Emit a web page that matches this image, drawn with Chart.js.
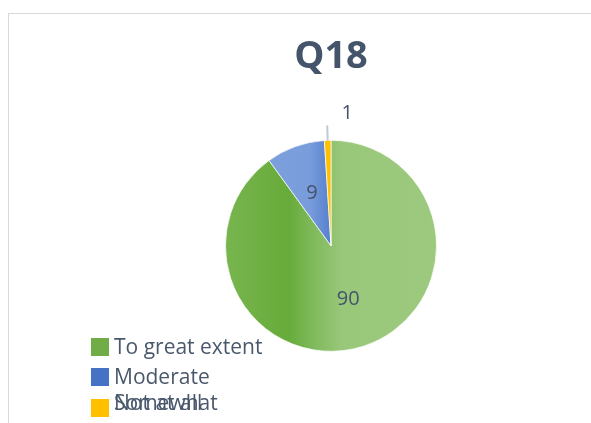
<!DOCTYPE html>
<html>
<head>
<meta charset="utf-8">
<script src="https://cdn.jsdelivr.net/npm/chart.js@4"></script>
<style>
  html, body { margin: 0; padding: 0; background: #fff; }
  #wrap { position: relative; width: 591px; height: 423px; overflow: hidden; }
  #frame { position: absolute; left: 8px; top: 13px; width: 640px; height: 460px; border: 1px solid #d9d9d9; }
  canvas { position: absolute; left: 0; top: 0; }
  #legend { position: absolute; left: 91px; top: 338px; font-family: "Open Sans", sans-serif; font-size: 21px; color: #4A586C; }
  .item { position: absolute; left: 0; white-space: nowrap; height: 20px; }
  .box { position: absolute; left: 0; width: 18px; height: 18px; }
  .txt { position: absolute; left: 23px; top: -5px; line-height: 26px; }
</style>
</head>
<body>
<div id="wrap">
  <div id="frame"></div>
  <canvas id="c" width="591" height="423"></canvas>
  <div id="legend"></div>
</div>
<script>
const title = "Q18";
const labels = ["To great extent", "Moderate", "Somewhat", "Not at all"];
const values = [90, 9, 1, 0];
const legendColors = ["#70AD47", "#4472C4", "#FFC000", "#A5A5A5"];

const textColor = "#44546A";

// office-like shading across the pie
const greenFill = chart => {
  const a = chart.chartArea;
  if (!a) return legendColors[0];
  const g = chart.ctx.createLinearGradient(a.left, 0, a.right, 0);
  g.addColorStop(0, "#78B54F");
  g.addColorStop(0.3, "#67AB3A");
  g.addColorStop(0.42, "#80BA5D");
  g.addColorStop(0.56, "#9AC87B");
  g.addColorStop(1, "#9CC97D");
  return g;
};
const blueFill = chart => {
  const a = chart.chartArea;
  if (!a) return legendColors[1];
  const g = chart.ctx.createLinearGradient(a.left, 0, a.right, 0);
  g.addColorStop(0, "#80A3DE");
  g.addColorStop(0.4, "#799CDB");
  g.addColorStop(0.5, "#5580CD");
  g.addColorStop(1, "#5580CD");
  return g;
};

const labelPlugin = {
  id: "sliceLabels",
  afterDatasetsDraw(chart) {
    const ctx = chart.ctx;
    const meta = chart.getDatasetMeta(0);
    const total = values.reduce((s, v) => s + v, 0);
    ctx.save();
    ctx.font = "20px 'Open Sans', sans-serif";
    ctx.fillStyle = textColor;
    ctx.textAlign = "center";
    ctx.textBaseline = "middle";
    meta.data.forEach((arc, i) => {
      const v = values[i];
      if (!v) return;
      const p = arc.getProps(["x", "y", "startAngle", "endAngle", "outerRadius"], true);
      const mid = (p.startAngle + p.endAngle) / 2;
      const cos = Math.cos(mid), sin = Math.sin(mid);
      if (v / total < 0.03) {
        const r0 = p.outerRadius, r1 = p.outerRadius + 15;
        ctx.strokeStyle = "#BFC8D8";
        ctx.lineWidth = 2;
        ctx.beginPath();
        ctx.moveTo(p.x + cos * r0, p.y + sin * r0);
        ctx.lineTo(p.x + cos * r1, p.y + sin * r1);
        ctx.stroke();
        ctx.fillText(String(v), p.x + cos * r1 + 20, p.y + sin * r1 - 12);
      } else {
        const r = p.outerRadius * 0.53;
        ctx.fillText(String(v), p.x + cos * r, p.y + sin * r);
      }
    });
    ctx.restore();
  }
};

new Chart(document.getElementById("c"), {
  type: "pie",
  data: {
    labels,
    datasets: [{
      data: values,
      backgroundColor: ctx => {
        const i = ctx.dataIndex;
        if (i === 0) return greenFill(ctx.chart);
        if (i === 1) return blueFill(ctx.chart);
        return legendColors[i];
      },
      borderColor: "rgba(255,255,255,0.7)",
      borderWidth: 1
    }]
  },
  options: {
    responsive: false,
    animation: false,
    layout: { padding: { top: 20, left: 225, right: 154, bottom: 71 } },
    plugins: {
      legend: { display: false },
      tooltip: { enabled: false },
      title: {
        display: true,
        text: title,
        color: textColor,
        font: { family: "'Open Sans', sans-serif", size: 38, weight: "bold", lineHeight: 1.2 },
        padding: { top: 14, bottom: 60 }
      }
    }
  },
  plugins: [labelPlugin]
});

// legend, the last entries run into the same row like in the original
const legend = document.getElementById("legend");
labels.forEach((name, i) => {
  const row = Math.min(i, 2);
  const item = document.createElement("div");
  item.className = "item";
  item.style.top = (row * 29.5) + "px";
  const box = document.createElement("div");
  box.className = "box";
  box.style.background = legendColors[i];
  if (row === 2) box.style.top = "2px";
  const txt = document.createElement("div");
  txt.className = "txt";
  if (row === 2) txt.style.top = "-8px";
  txt.textContent = name;
  item.append(box, txt);
  legend.append(item);
});
// keep the yellow box on top of the hidden one
legend.lastChild.firstChild.style.background = "transparent";
</script>
</body>
</html>
